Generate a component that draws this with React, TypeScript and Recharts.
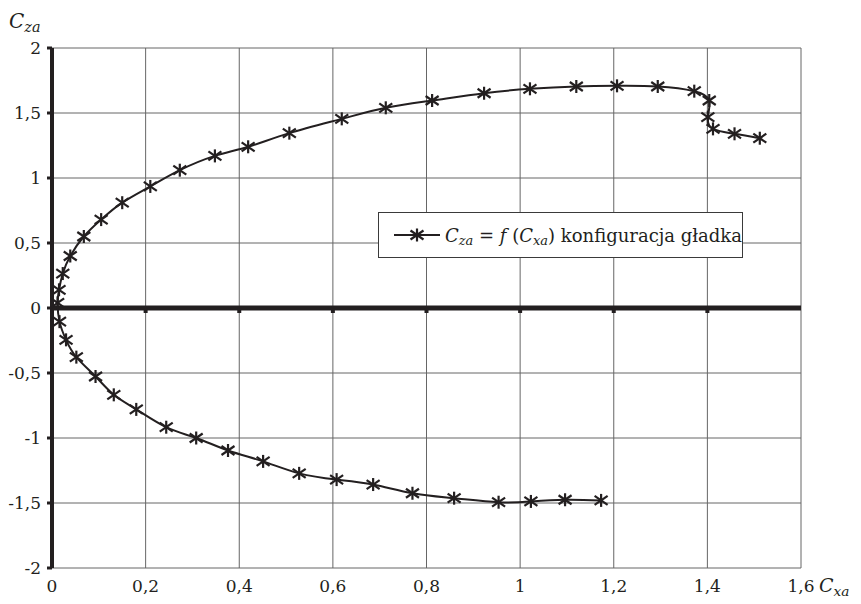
import React from 'react'
import {
    LineChart,
    Line,
    XAxis,
    YAxis,
    CartesianGrid,
    ReferenceLine,
    ReferenceDot
} from 'recharts'

// punkty, od dolnej gałęzi przez zero do górnej
const cxa = [
    1.173, 1.096, 1.023, 0.954, 0.859, 0.77, 0.686, 0.608, 0.528, 0.451, 0.376, 0.308, 0.244, 0.18,
    0.132, 0.093, 0.052, 0.03, 0.016, 0.012, 0.015, 0.023, 0.039, 0.068, 0.105, 0.15, 0.21, 0.273,
    0.348, 0.419, 0.507, 0.619, 0.713, 0.812, 0.923, 1.021, 1.12, 1.207, 1.294, 1.372, 1.404, 1.401,
    1.412, 1.458, 1.512
]
const cza = [
    -1.48, -1.475, -1.488, -1.494, -1.463, -1.425, -1.358, -1.32, -1.272, -1.18, -1.096, -1.0, -0.917,
    -0.78, -0.668, -0.527, -0.378, -0.245, -0.105, 0.04, 0.14, 0.265, 0.4, 0.55, 0.68, 0.81, 0.935,
    1.06, 1.17, 1.24, 1.345, 1.455, 1.54, 1.596, 1.652, 1.686, 1.704, 1.709, 1.704, 1.668, 1.596,
    1.468, 1.378, 1.34, 1.306
]
const xTicks = [0, 0.2, 0.4, 0.6, 0.8, 1, 1.2, 1.4, 1.6]
const yTicks = [-2, -1.5, -1, -0.5, 0, 0.5, 1, 1.5, 2]

const data = cxa.map((x, i) => ({ x, y: cza[i] }))

const FONT = 'DejaVu Serif, Liberation Serif, serif'
const INK = '#231f20'
const fmt = (v: number) => String(v).replace('.', ',')

function Star({ cx, cy }: { cx?: number; cy?: number }) {
    if (cx == null || cy == null) return null
    return (
        <g stroke={INK} strokeWidth={2.2}>
            <line x1={cx} y1={cy - 6.5} x2={cx} y2={cy + 6.5} />
            <line x1={cx - 6.5} y1={cy - 4.5} x2={cx + 6.5} y2={cy + 4.5} />
            <line x1={cx - 6.5} y1={cy + 4.5} x2={cx + 6.5} y2={cy - 4.5} />
        </g>
    )
}

const Sub = ({ children }: { children: React.ReactNode }) => (
    <span style={{ fontSize: '0.72em', position: 'relative', top: '0.3em' }}>{children}</span>
)

export default function App() {
    return (
        <div style={{ position: 'relative', width: 845, height: 596, fontFamily: FONT, color: INK }}>
            <LineChart
                width={845}
                height={596}
                data={data}
                margin={{ top: 40, right: 52, left: 0, bottom: 6 }}
            >
                <CartesianGrid stroke="#666" strokeWidth={1} horizontalValues={yTicks} verticalValues={xTicks} />
                <XAxis
                    dataKey="x"
                    type="number"
                    domain={[0, 1.6]}
                    ticks={xTicks}
                    tickFormatter={fmt}
                    axisLine={false}
                    tickLine={false}
                    tickSize={0}
                    tickMargin={12}
                    height={30}
                    tick={{ fill: INK, fontSize: 17, fontFamily: FONT }}
                />
                <YAxis
                    type="number"
                    domain={[-2, 2]}
                    ticks={yTicks}
                    tickFormatter={fmt}
                    width={44}
                    axisLine={{ stroke: INK, strokeWidth: 4 }}
                    tickLine={{ stroke: INK, strokeWidth: 3 }}
                    tickSize={5}
                    tickMargin={6}
                    tick={{ fill: INK, fontSize: 17, fontFamily: FONT }}
                />
                <ReferenceLine y={0} stroke={INK} strokeWidth={5} />
                {xTicks.slice(1, -1).map(t => (
                    <ReferenceDot
                        key={t}
                        x={t}
                        y={0}
                        r={2}
                        shape={(p: any) => <rect x={p.cx - 2} y={p.cy} width={4} height={5} fill={INK} />}
                    />
                ))}
                <Line
                    dataKey="y"
                    type="natural"
                    stroke={INK}
                    strokeWidth={2}
                    dot={(p: any) => <Star key={p.index} cx={p.cx} cy={p.cy} />}
                    isAnimationActive={false}
                />
            </LineChart>

            {/* legenda */}
            <div
                style={{
                    position: 'absolute',
                    left: 370,
                    top: 204,
                    width: 363,
                    height: 44,
                    border: '1px solid #3a3a3a',
                    background: '#fff',
                    display: 'flex',
                    alignItems: 'center',
                    fontSize: 18,
                    whiteSpace: 'nowrap'
                }}
            >
                <svg width={54} height={20} style={{ marginLeft: 14 }}>
                    <line x1={1} y1={10} x2={47} y2={10} stroke={INK} strokeWidth={2} />
                    <Star cx={24} cy={10} />
                </svg>
                <span style={{ marginLeft: 2 }}>
                    <i>C</i><i><Sub>za</Sub></i> = <i>f</i> (<i>C</i><i><Sub>xa</Sub></i>) konfiguracja gładka
                </span>
            </div>

            <div style={{ position: 'absolute', left: 1, top: 1, fontSize: 20 }}>
                <i>C</i><i><Sub>za</Sub></i>
            </div>
            <div style={{ position: 'absolute', left: 811, top: 566, fontSize: 19 }}>
                <i>C</i><i><Sub>xa</Sub></i>
            </div>
        </div>
    )
}
